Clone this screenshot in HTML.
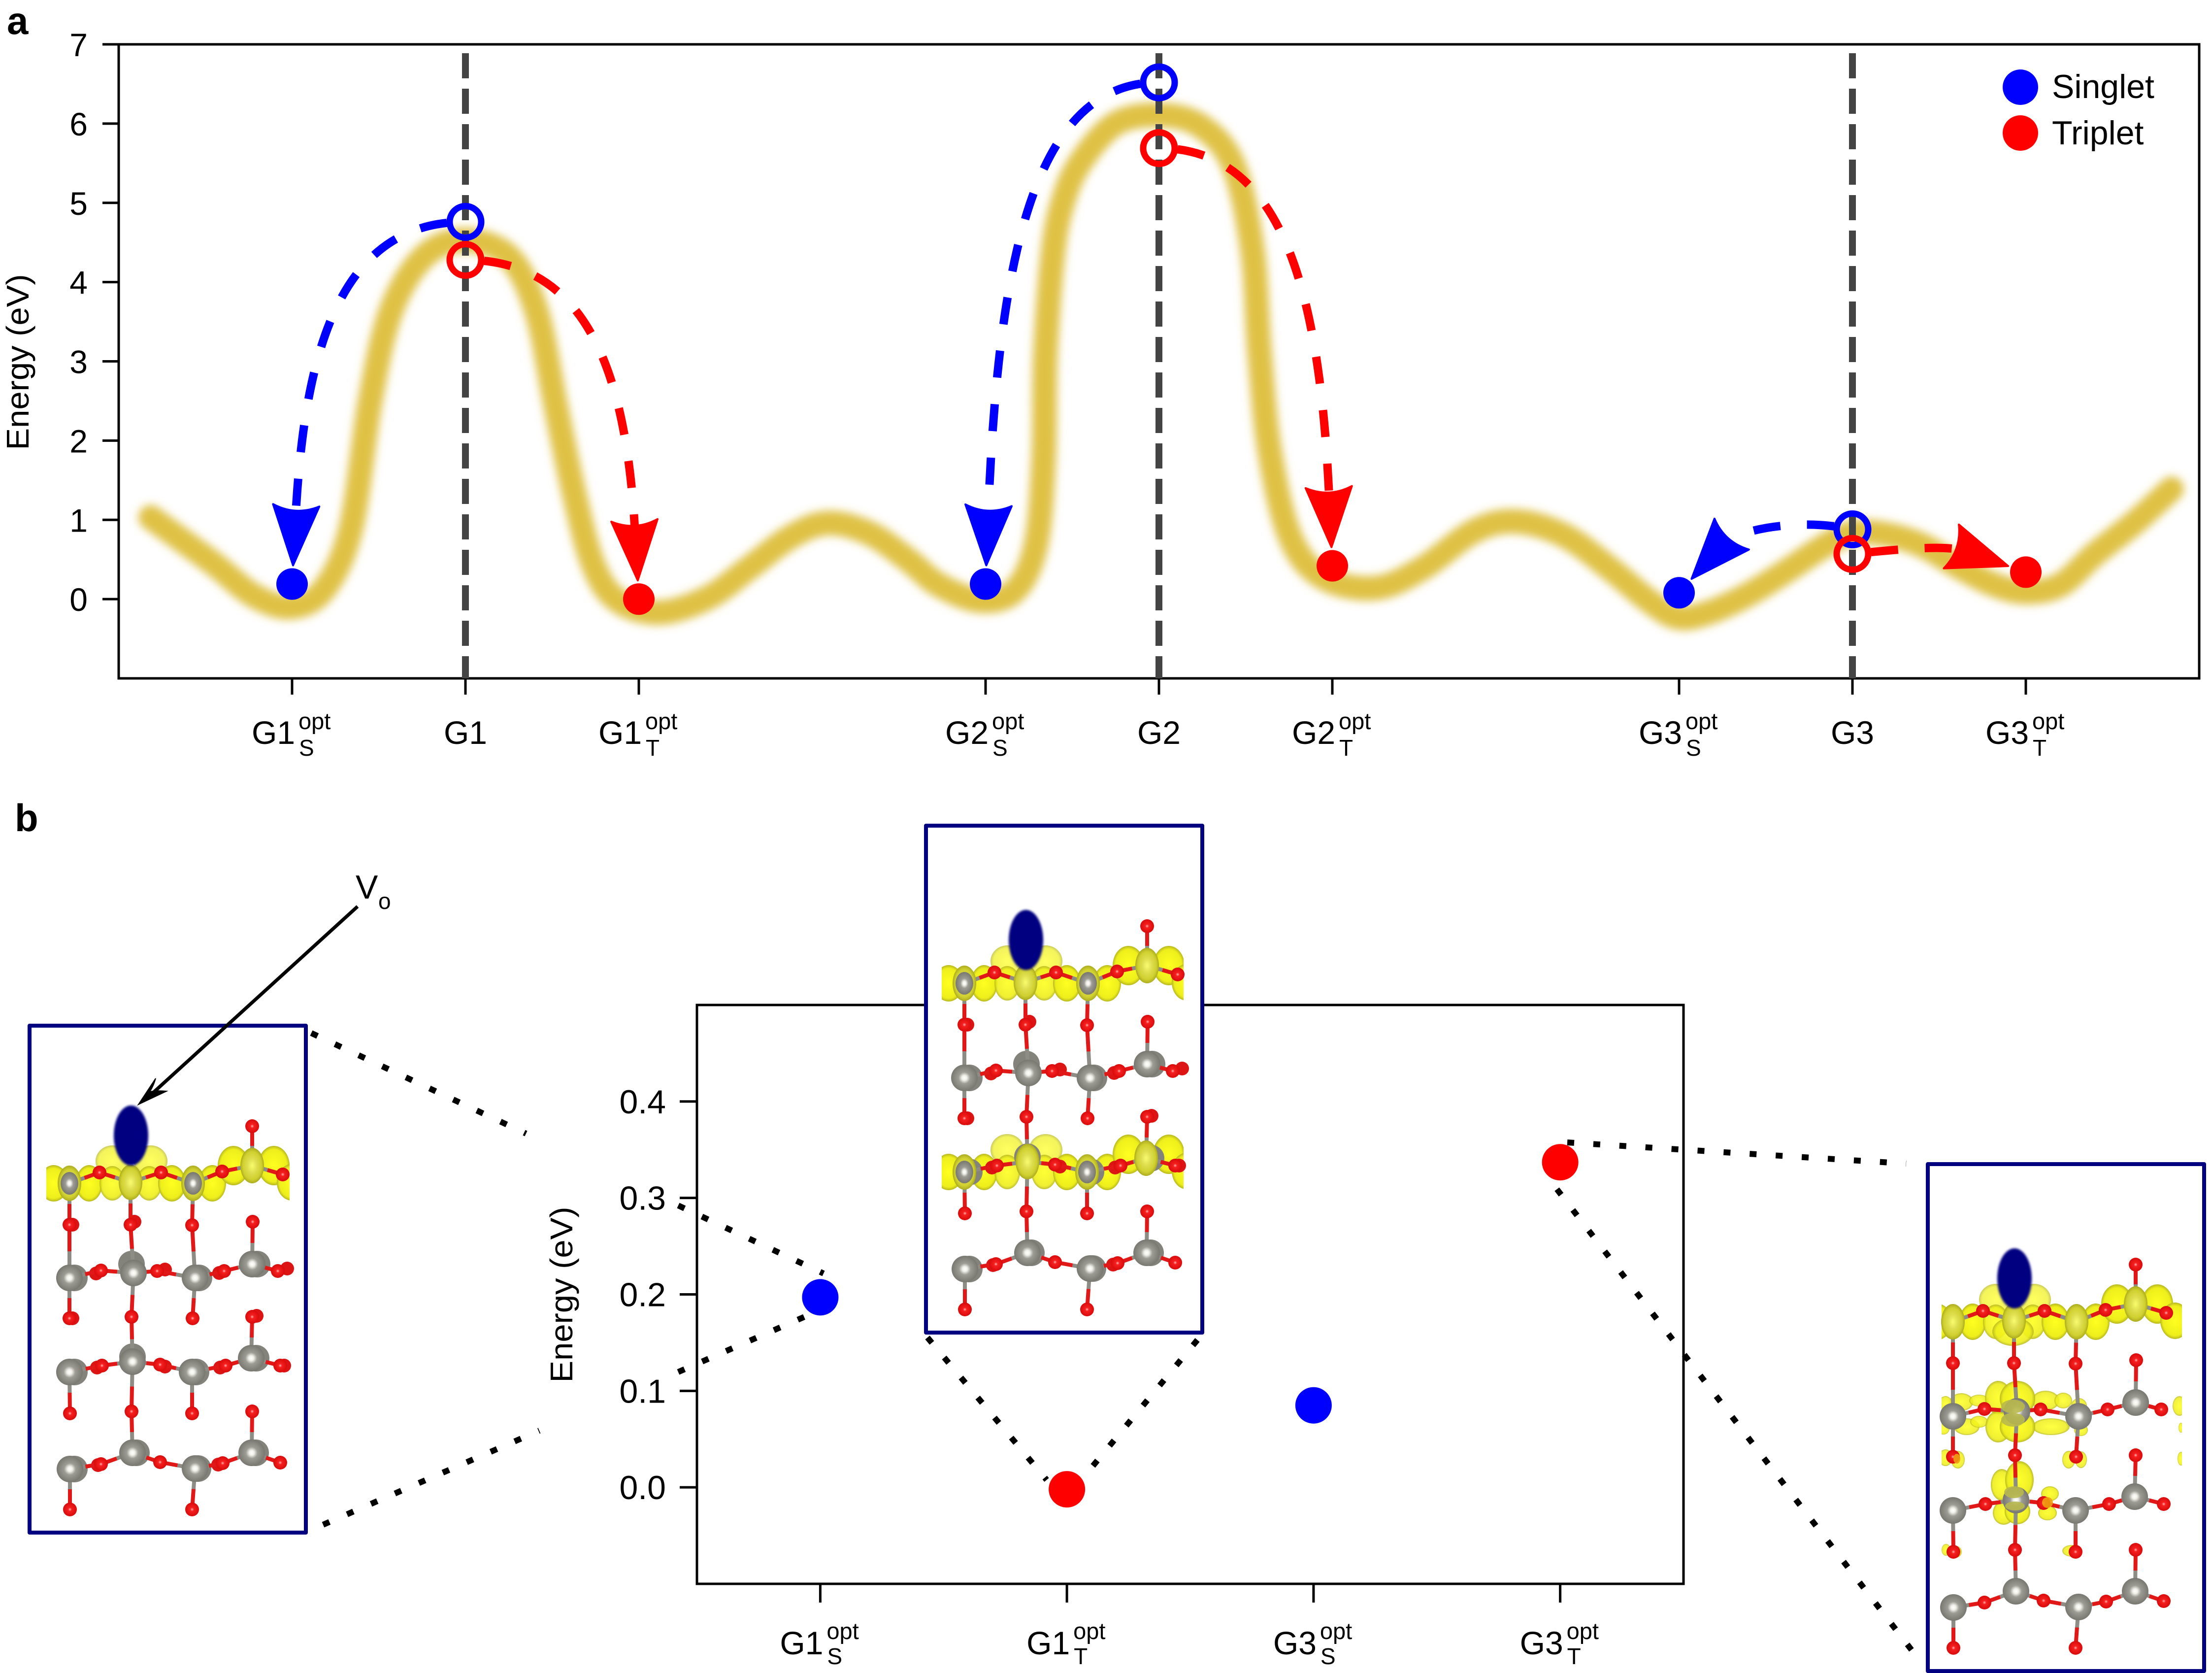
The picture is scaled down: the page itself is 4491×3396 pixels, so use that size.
<!DOCTYPE html>
<html>
<head>
<meta charset="utf-8">
<title>Energy landscape of singlet and triplet states</title>
<style>
html,body{margin:0;padding:0;background:#fff;}
svg{display:block;}
text{font-family:"Liberation Sans",sans-serif;fill:#000;}
</style>
</head>
<body>
<svg id="fig" xmlns="http://www.w3.org/2000/svg" width="4491" height="3396" viewBox="0 0 4491 3396">
<defs>
<filter id="glow" filterUnits="userSpaceOnUse" x="200" y="100" width="4300" height="1300"><feGaussianBlur stdDeviation="9"/></filter>
<filter id="soft" x="-20%" y="-20%" width="140%" height="140%"><feGaussianBlur stdDeviation="2.5"/></filter>
<radialGradient id="tiGrad" cx="50%" cy="50%" r="52%"><stop offset="0" stop-color="#ffffff"/><stop offset=".18" stop-color="#f0f0ea"/><stop offset=".42" stop-color="#9c9c95"/><stop offset="1" stop-color="#75756e"/></radialGradient>
<radialGradient id="oGrad" cx="50%" cy="50%" r="52%"><stop offset="0" stop-color="#ffb8b8"/><stop offset=".25" stop-color="#f52020"/><stop offset="1" stop-color="#d80a0a"/></radialGradient>
<radialGradient id="yellowGrad" cx="50%" cy="50%" r="50%"><stop offset="0" stop-color="#ffff20"/><stop offset=".82" stop-color="#eeee1c"/><stop offset="1" stop-color="#b8b820"/></radialGradient>
<radialGradient id="oliveGrad" cx="50%" cy="50%" r="50%"><stop offset="0" stop-color="#fbfb70"/><stop offset=".4" stop-color="#dede50"/><stop offset=".78" stop-color="#d0d030"/><stop offset="1" stop-color="#acac20"/></radialGradient>
</defs>

<text x="14" y="69" font-size="78" font-weight="bold">a</text>
<text x="30" y="1687" font-size="78" font-weight="bold">b</text>

<g id="panelA"></g>
<text transform="translate(58,735) rotate(-90)" text-anchor="middle" font-size="64" textLength="357" lengthAdjust="spacingAndGlyphs">Energy (eV)</text>
<g>
<circle cx="4102" cy="177" r="36" fill="#0000ff"/>
<text x="4166" y="199" font-size="68">Singlet</text>
<circle cx="4102" cy="270" r="36" fill="#ff0000"/>
<text x="4166" y="293" font-size="68">Triplet</text>
</g>

<g id="panelB"></g>
<text transform="translate(1162,2628) rotate(-90)" text-anchor="middle" font-size="64" textLength="357" lengthAdjust="spacingAndGlyphs">Energy (eV)</text>

<g id="connectors" stroke="#000" stroke-width="12" stroke-dasharray="14 39" fill="none">
<line x1="632" y1="2097" x2="1068" y2="2301"/>
<line x1="656" y1="3095" x2="1095" y2="2904"/>
<line x1="1377" y1="2447" x2="1672" y2="2585"/>
<line x1="1377" y1="2785" x2="1640" y2="2670"/>
<line x1="1883" y1="2715" x2="2125" y2="3004"/>
<line x1="2431" y1="2720" x2="2197" y2="3002"/>
<line x1="3182" y1="2319" x2="3870" y2="2362"/>
<line x1="3161" y1="2414" x2="3897" y2="3370"/>
</g>

<g id="structures"></g>

<g>
<text x="722" y="1824" font-size="68">V<tspan x="768" y="1845" font-size="46">o</tspan></text>
<line x1="726" y1="1840" x2="300" y2="2228" stroke="#000" stroke-width="7"/>
<path d="M281 2242 L316 2189 Q312 2204 304 2216 Q318 2213 338 2215 Z" fill="#000" stroke="#000" stroke-width="2"/>
</g>

<script>
// Panel a data
const topTickIndex = [0, 1, 2, 4, 5, 6, 8, 9, 10];
const topTickBase = ['G1', 'G1', 'G1', 'G2', 'G2', 'G2', 'G3', 'G3', 'G3'];
const topTickSub = ['S', '', 'T', 'S', '', 'T', 'S', '', 'T'];
const topTickSup = ['opt', '', 'opt', 'opt', '', 'opt', 'opt', '', 'opt'];
const topEnergyTicks = [0, 1, 2, 3, 4, 5, 6, 7];
const pathIndex = [-0.815, -0.46, -0.217, 0, 0.19, 0.34, 0.45, 0.57, 0.76, 0.99, 1.25, 1.41, 1.52, 1.63, 1.74, 1.88, 2.12, 2.40, 2.64, 2.88, 3.09, 3.33, 3.55, 3.73, 3.97, 4.17, 4.29, 4.335, 4.345, 4.39, 4.45, 4.55, 4.75, 5.0, 5.24, 5.43, 5.54, 5.58, 5.64, 5.76, 5.95, 6.25, 6.52, 6.82, 7.06, 7.34, 7.61, 7.82, 7.99, 8.17, 8.40, 8.63, 8.83, 8.99, 9.16, 9.39, 9.62, 9.82, 10.0, 10.2, 10.4, 10.63, 10.84];
const pathEnergy = [1.03, 0.46, 0.04, -0.10, 0.14, 0.90, 2.49, 3.63, 4.32, 4.53, 4.32, 3.63, 2.45, 1.30, 0.42, -0.02, -0.17, 0.02, 0.40, 0.79, 0.96, 0.83, 0.50, 0.18, -0.02, 0.11, 0.68, 1.77, 3.08, 4.39, 5.04, 5.52, 6.0, 6.11, 5.97, 5.47, 4.39, 3.12, 1.85, 0.77, 0.27, 0.14, 0.39, 0.86, 0.98, 0.80, 0.37, -0.01, -0.23, -0.17, 0.06, 0.37, 0.66, 0.83, 0.83, 0.69, 0.40, 0.18, 0.09, 0.18, 0.57, 0.97, 1.39];
const verticalSites = [1, 5, 9];
const verticalSinglet = [4.76, 6.52, 0.88];
const verticalTriplet = [4.28, 5.69, 0.57];
const singletSites = [0, 4, 8];
const singletEnergy = [0.19, 0.19, 0.08];
const tripletSites = [2, 6, 10];
const tripletEnergy = [0, 0.42, 0.34];

// Panel b data
const lowerCategories = ['G1', 'G1', 'G3', 'G3'];
const lowerSub = ['S', 'T', 'S', 'T'];
const lowerEnergy = [0.197, -0.002, 0.085, 0.337];
const lowerEnergyTicks = [0, 0.1, 0.2, 0.3, 0.4];

// Axis functions
const xA = i => 241 + (i + 1) / 12 * (4465 - 241);
const yA = v => 1377 - (v + 1) / 8 * (1377 - 90);
const xB = i => 1415 + (i + 0.5) / 4 * (3418 - 1415);
const yB = v => 3215 - (v + 0.1) / 0.6 * (3215 - 2040);

const NS = 'http://www.w3.org/2000/svg';
function make(tag, attrs, parent) {
  const el = document.createElementNS(NS, tag);
  for (const k in attrs) el.setAttribute(k, attrs[k]);
  parent.appendChild(el);
  return el;
}
const panelA = document.getElementById('panelA');
const panelB = document.getElementById('panelB');

// Smooth curve through points
function smoothPath(xs, ys) {
  let d = 'M' + xs[0].toFixed(1) + ' ' + ys[0].toFixed(1);
  for (let i = 0; i < xs.length - 1; i++) {
    const p = Math.max(i - 1, 0), n = Math.min(i + 2, xs.length - 1);
    const c1x = xs[i] + (xs[i + 1] - xs[p]) / 6, c1y = ys[i] + (ys[i + 1] - ys[p]) / 6;
    const c2x = xs[i + 1] - (xs[n] - xs[i]) / 6, c2y = ys[i + 1] - (ys[n] - ys[i]) / 6;
    d += ' C' + c1x.toFixed(1) + ' ' + c1y.toFixed(1) + ' ' + c2x.toFixed(1) + ' ' + c2y.toFixed(1) + ' ' + xs[i + 1].toFixed(1) + ' ' + ys[i + 1].toFixed(1);
  }
  return d;
}

// Labels with stacked superscript / subscript
function tickLabel(parent, tx, base, sub, sup, baseY, supY, subY) {
  if (!sub) {
    const t = make('text', {x: tx, y: baseY, 'font-size': 66, 'text-anchor': 'middle'}, parent);
    t.textContent = base;
    
    
    return;
  }
  const t = make('text', {x: tx - 82, y: baseY, 'font-size': 66}, parent);
  t.textContent = base;
  
  
  const s = make('text', {x: tx + 13, y: supY, 'font-size': 47}, parent);
  s.textContent = sup;
  
  
  const b = make('text', {x: tx + 14, y: subY, 'font-size': 46}, parent);
  b.textContent = sub;
  
  
}

// ---------- Panel a ----------
const frameA = make('rect', {x: 241, y: 90, width: 4224, height: 1287, fill: '#fff', stroke: '#000', 'stroke-width': 5}, panelA);



topEnergyTicks.forEach(v => {
  const t = make('line', {x1: 208, x2: 241, y1: yA(v), y2: yA(v), stroke: '#000', 'stroke-width': 5}, panelA);
  
  
  const l = make('text', {x: 178, y: yA(v) + 24, 'font-size': 66, 'text-anchor': 'end'}, panelA);
  l.textContent = String(v);
  
  
});
topTickIndex.forEach((ix, k) => {
  const t = make('line', {x1: xA(ix), x2: xA(ix), y1: 1377, y2: 1410, stroke: '#000', 'stroke-width': 5}, panelA);
  
  
  tickLabel(panelA, xA(ix), topTickBase[k], topTickSub[k], topTickSup[k], 1510, 1480, 1534);
});

const energyPath = make('path', {d: smoothPath(pathIndex.map(xA), pathEnergy.map(yA)), fill: 'none', stroke: '#dfc145', 'stroke-width': 50, 'stroke-linecap': 'round', filter: 'url(#glow)'}, panelA);



verticalSites.forEach(ix => {
  const l = make('line', {x1: xA(ix), x2: xA(ix), y1: 108, y2: 1377, stroke: '#444', 'stroke-width': 14, 'stroke-dasharray': '51 21'}, panelA);
  
  
});

// Relaxation arrows from the vertical state to the optimised state
function relaxArrow(x0, y0, x3, y3, color) {
  const dx = x3 - x0, dy = y3 - y0;
  let p1x, p1y, p2x, p2y;
  if (Math.abs(dy) > 250) {
    p1x = x0 + 0.73 * dx; p1y = y0;
    p2x = x3 - 0.07 * dx; p2y = y3 - 0.64 * dy;
  } else if (dx < 0) {
    p1x = x0 + 0.34 * dx; p1y = y0 - 0.2 * Math.abs(dy);
    p2x = x3 - 0.315 * dx; p2y = y3 - 0.96 * dy;
  } else {
    p1x = x0 + 0.25 * dx; p1y = y0 - 0.24 * Math.abs(dy);
    p2x = x3 - 0.46 * dx; p2y = y3 - 1.51 * dy;
  }
  const ux0 = x3 - p2x, uy0 = y3 - p2y, len = Math.hypot(ux0, uy0);
  const ux = ux0 / len, uy = uy0 / len;
  const tipX = x3 - ux * 38, tipY = y3 - uy * 38;
  const endX = tipX - ux * 95, endY = tipY - uy * 95;
  const shaft = make('path', {d: 'M' + x0 + ' ' + y0 + ' C' + p1x + ' ' + p1y + ' ' + p2x + ' ' + p2y + ' ' + endX + ' ' + endY, fill: 'none', stroke: color, 'stroke-width': 17, 'stroke-dasharray': '55 54', 'stroke-dashoffset': -38}, panelA);
  
  
  const nx = -uy, ny = ux;
  const bx = tipX - ux * 122, by = tipY - uy * 122;
  const b1x = bx + nx * 47, b1y = by + ny * 47, b2x = bx - nx * 47, b2y = by - ny * 47;
  const qx = tipX - ux * 100, qy = tipY - uy * 100;
  const head = make('path', {d: 'M' + tipX + ' ' + tipY + ' L' + b1x + ' ' + b1y + ' Q' + qx + ' ' + qy + ' ' + b2x + ' ' + b2y + ' Z', fill: color, stroke: color, 'stroke-width': 4, 'stroke-linejoin': 'round'}, panelA);
  
  
}
verticalSites.forEach((ix, k) => {
  relaxArrow(xA(ix), yA(verticalSinglet[k]), xA(singletSites[k]), yA(singletEnergy[k]), '#0000ff');
  relaxArrow(xA(ix), yA(verticalTriplet[k]), xA(tripletSites[k]), yA(tripletEnergy[k]), '#ff0000');
});
verticalSites.forEach((ix, k) => {
  const c1 = make('circle', {cx: xA(ix), cy: yA(verticalSinglet[k]), r: 32, fill: 'none', stroke: '#0000ff', 'stroke-width': 13}, panelA);
  
  
  const c2 = make('circle', {cx: xA(ix), cy: yA(verticalTriplet[k]), r: 32, fill: 'none', stroke: '#ff0000', 'stroke-width': 13}, panelA);
  
  
});
singletSites.forEach((ix, k) => {
  const c = make('circle', {cx: xA(ix), cy: yA(singletEnergy[k]), r: 32, fill: '#0000ff'}, panelA);
  
  
});
tripletSites.forEach((ix, k) => {
  const c = make('circle', {cx: xA(ix), cy: yA(tripletEnergy[k]), r: 32, fill: '#ff0000'}, panelA);
  
  
});

// ---------- Panel b ----------
const frameB = make('rect', {x: 1415, y: 2040, width: 2003, height: 1175, fill: '#fff', stroke: '#000', 'stroke-width': 5}, panelB);


lowerEnergyTicks.forEach(v => {
  const t = make('line', {x1: 1380, x2: 1415, y1: yB(v), y2: yB(v), stroke: '#000', 'stroke-width': 5}, panelB);
  
  
  const l = make('text', {x: 1352, y: yB(v) + 24, 'font-size': 68, 'text-anchor': 'end'}, panelB);
  l.textContent = v.toFixed(1);
  
  
});
lowerCategories.forEach((name, i) => {
  const t = make('line', {x1: xB(i), x2: xB(i), y1: 3215, y2: 3253, stroke: '#000', 'stroke-width': 5}, panelB);
  
  
  tickLabel(panelB, xB(i), name, lowerSub[i], 'opt', 3358, 3327, 3378);
  const c = make('circle', {cx: xB(i), cy: yB(lowerEnergy[i]), r: 37, fill: lowerSub[i] === 'S' ? '#0000ff' : '#ff0000'}, panelB);
  
  
});

// ---------- Atomic structure insets ----------
const tiAtoms = [
  [78, 320, 1], [202, 318, 1], [329, 320, 1], [449, 284, 1],
  [78, 512, 2], [208, 502, 2], [333, 512, 2], [449, 484, 2],
  [78, 703, 3], [206, 682, 3], [327, 703, 3], [447, 675, 3],
  [79, 900, 4], [206, 867, 4], [333, 899, 4], [448, 867, 4]
];
const tiGhosts = [
  [88, 512], [204, 484], [341, 512], [459, 484],
  [88, 703], [206, 672], [335, 703], [457, 675],
  [88, 900], [214, 867], [339, 899], [456, 867]
];
const oxygenAtoms = [
  [449, 204], [78, 404], [202, 404], [327, 405], [450, 398],
  [139, 298], [264, 298], [388, 296], [511, 302],
  [142, 497], [256, 498], [392, 498], [501, 498],
  [78, 594], [204, 591], [328, 594], [449, 591],
  [144, 690], [262, 688], [395, 690], [506, 690],
  [79, 787], [204, 783], [327, 787], [449, 783],
  [142, 890], [262, 886], [389, 888], [506, 887],
  [79, 982], [327, 982]
];
const oxygenGhosts = [
  [132, 503], [272, 495], [382, 502], [520, 493], [84, 404], [210, 398],
  [84, 594], [458, 589], [134, 694], [272, 692], [384, 694], [514, 690], [136, 892], [380, 891]
];
const bondPairs = [
  [449,204,449,284],[78,320,78,404],[202,318,202,404],[329,320,327,405],
  [78,320,139,298],[202,318,139,298],[202,318,264,298],[329,320,264,298],[329,320,388,296],[449,284,388,296],[449,284,511,302],
  [78,404,78,512],[202,404,208,502],[327,405,333,512],[450,398,449,484],
  [78,512,142,497],[208,502,142,497],[208,502,256,498],[333,512,256,498],[333,512,392,498],[449,484,392,498],[449,484,501,498],
  [78,512,78,594],[208,502,204,591],[333,512,328,594],[204,591,206,682],[449,591,447,675],
  [78,703,144,690],[206,682,144,690],[206,682,262,688],[327,703,262,688],[327,703,395,690],[447,675,395,690],[447,675,506,690],
  [78,703,79,787],[206,682,204,783],[327,703,327,787],[204,783,206,867],[449,783,448,867],
  [79,900,142,890],[206,867,142,890],[206,867,262,886],[333,899,262,886],[333,899,389,888],[448,867,389,888],[448,867,506,887],
  [79,900,79,982],[333,899,327,982]
];
const surfaceBlobs = [
  [165,275,34,32,0.72],[243,275,34,32,0.72],[46,320,30,37,1],[118,320,27,37,1],[165,320,26,35,0.9],[240,320,26,35,0.9],[286,320,28,37,1],[368,320,28,37,1],[411,284,32,40,1],[493,284,32,40,1],[529,318,30,37,1]
];
const thirdLayerBlobs = surfaceBlobs.map(b => [b[0], b[1] + 383, b[2], b[3], b[4]]);
const deepBlobs = [
  [200,340,42,29,0.9],
  [95,483,24,18,0.85],[131,480,20,12,0.85],[266,480,28,20,0.85],[302,480,18,16,0.85],[334,491,16,16,0.85],
  [106,533,26,17,0.85],[131,523,18,12,0.85],[277,533,38,17,0.85],[338,540,14,12,0.85],
  [63,487,14,16,0.85],[59,537,12,12,0.85],[538,491,14,20,0.85],[541,535,5,10,0.85],[541,598,7,14,0.85],
  [170,474,27,34,0.9],[209,476,36,36,0.95],[170,533,26,32,0.9],[209,533,36,32,0.95],
  [63,596,14,17,0.85],[88,600,14,18,0.85],[313,600,13,18,0.85],[338,600,12,17,0.85],
  [177,651,22,32,0.9],[213,641,29,38,0.95],[181,708,22,24,0.9],[209,705,26,26,0.95],
  [275,669,18,15,0.9],[270,708,19,15,0.9],
  [64,783,9,12,0.85],[84,787,12,12,0.85],[320,785,20,12,0.85]
];
const deepCaps = [
  [200,492,24,14,'#b8b84e'],[200,519,24,14,'#b8b84e'],[202,666,20,12,'#b8b84e'],[204,694,20,9,'#b8b84e'],[270,687,11,11,'#f0a010'],[86,598,7,10,'#f0a010']
];
const boxes = [
  {x: 60, y: 2082, off: 3, name: 'g1-singlet-structure', blobs: surfaceBlobs, olive: [1], clipX: 31, clipW: 494, ghosts: true, grayCore: true, caps: []},
  {x: 1880, y: 1676, off: 0, name: 'g1-triplet-structure', blobs: surfaceBlobs.concat(thirdLayerBlobs), olive: [1, 3], clipX: 32, clipW: 491, ghosts: true, grayCore: true, caps: []},
  {x: 3914, y: 2363, off: -27, name: 'g3-triplet-structure', blobs: surfaceBlobs.concat(deepBlobs), olive: [1], clipX: 55, clipW: 488, ghosts: false, grayCore: false, caps: deepCaps}
];
const structures = document.getElementById('structures');
boxes.forEach((box, bi) => {
  const g = make('g', {}, structures);
  
  
  const frame = make('rect', {x: box.x, y: box.y, width: 561, height: 1029, fill: '#fff', stroke: '#000080', 'stroke-width': 8, 'stroke-linejoin': 'round'}, g);
  
  
  const inner = make('g', {transform: 'translate(' + (box.x + box.off) + ',' + box.y + ')'}, g);
  
  
  const clip = make('clipPath', {id: 'clip' + bi}, inner);
  make('rect', {x: box.clipX, y: 0, width: box.clipW, height: 1029}, clip);
  const blobLayer = make('g', {'clip-path': 'url(#clip' + bi + ')'}, inner);
  box.blobs.forEach(b => {
    const e = make('ellipse', {cx: b[0], cy: b[1], rx: b[2], ry: b[3], fill: 'url(#yellowGrad)', 'fill-opacity': b[4]}, blobLayer);
    
    
  });
  if (box.ghosts) {
    tiGhosts.forEach(t => {
      const a = make('circle', {cx: t[0], cy: t[1], r: 27, fill: '#83837c'}, inner);
      
      
    });
    oxygenGhosts.forEach(o => {
      const a = make('circle', {cx: o[0], cy: o[1], r: 14, fill: '#dc1414'}, inner);
      
      
    });
  }
  bondPairs.forEach(p => {
    const mx = (p[0] + p[2]) / 2, my = (p[1] + p[3]) / 2;
    const isTiFirst = tiAtoms.some(t => t[0] === p[0] && t[1] === p[1]);
    const s1 = make('line', {x1: p[0], y1: p[1], x2: mx, y2: my, stroke: isTiFirst ? '#8d8d86' : '#e01818', 'stroke-width': 8}, inner);
    
    
    const s2 = make('line', {x1: mx, y1: my, x2: p[2], y2: p[3], stroke: isTiFirst ? '#e01818' : '#8d8d86', 'stroke-width': 8}, inner);
    
    
  });
  tiAtoms.forEach((t, i) => {
    if (box.olive.includes(t[2])) {
      const a = make('ellipse', {cx: t[0], cy: t[1], rx: 24, ry: 36, fill: 'url(#oliveGrad)'}, inner);
      
      
      if (box.grayCore && i % 2 === 0) {
        const core = make('ellipse', {cx: t[0], cy: t[1], rx: 18, ry: 23, fill: 'url(#tiGrad)'}, inner);
        
        
      }
    } else {
      const a = make('circle', {cx: t[0], cy: t[1], r: 27, fill: 'url(#tiGrad)'}, inner);
      
      
    }
  });
  oxygenAtoms.forEach(o => {
    const a = make('circle', {cx: o[0], cy: o[1], r: 14, fill: 'url(#oGrad)'}, inner);
    
    
  });
  box.caps.forEach(c => {
    const e = make('ellipse', {cx: c[0], cy: c[1], rx: c[2], ry: c[3], fill: c[4], 'fill-opacity': 0.9}, inner);
    
    
  });
  const vac = make('ellipse', {cx: 203, cy: bi === 0 ? 223 : 232, rx: 35, ry: 61, fill: '#000080', filter: 'url(#soft)'}, inner);
  
  
});
</script>
</svg>
</body>
</html>
